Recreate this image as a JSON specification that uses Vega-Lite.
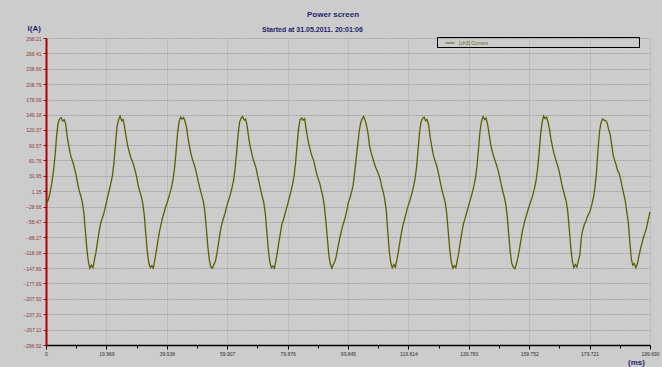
{
"$schema": "https://vega.github.io/schema/vega-lite/v6.json",
"width": 604, "height": 307,
"autosize": {"type": "none"},
"padding": {"left": 46, "top": 38, "right": 12, "bottom": 22},
"background": "#cccccc",
"config": {"font": "Liberation Sans", "view": {"stroke": null}},
"title": {"text": "Power screen", "anchor": "middle", "frame": "group", "dx": -15, "offset": 5, "fontSize": 8, "fontWeight": "bold", "color": "#1f1f6b"},
"data": {"values": [
{"ms":0,"current":-24},{"ms":0.5,"current":-19},{"ms":1,"current":-10},{"ms":1.5,"current":3},{"ms":2,"current":20},{"ms":2.5,"current":42},{"ms":3,"current":70},{"ms":3.5,"current":108},{"ms":4,"current":133},{"ms":4.5,"current":141},{"ms":5,"current":144},{"ms":5.5,"current":137},{"ms":6,"current":140},{"ms":6.5,"current":132},{"ms":7,"current":108},{"ms":7.5,"current":90},{"ms":8,"current":74},{"ms":8.5,"current":64},{"ms":9,"current":55},{"ms":9.5,"current":44},{"ms":10,"current":31},{"ms":10.5,"current":15},{"ms":11,"current":2},{"ms":11.5,"current":-8},{"ms":12,"current":-20},{"ms":12.5,"current":-40},{"ms":13,"current":-74},{"ms":13.5,"current":-110},{"ms":14,"current":-135},{"ms":14.5,"current":-148},{"ms":15,"current":-142},{"ms":15.5,"current":-147},{"ms":16,"current":-133},{"ms":16.5,"current":-118},{"ms":17,"current":-98},{"ms":17.5,"current":-79},{"ms":18,"current":-63},{"ms":18.5,"current":-53},{"ms":19,"current":-44},{"ms":19.5,"current":-33},
{"ms":20,"current":-20},{"ms":20.5,"current":-7},{"ms":21,"current":5},{"ms":21.5,"current":18},{"ms":22,"current":33},{"ms":22.5,"current":58},{"ms":23,"current":95},{"ms":23.5,"current":127},{"ms":24,"current":140},{"ms":24.5,"current":147},{"ms":25,"current":138},{"ms":25.5,"current":140},{"ms":26,"current":125},{"ms":26.5,"current":106},{"ms":27,"current":89},{"ms":27.5,"current":78},{"ms":28,"current":67},{"ms":28.5,"current":60},{"ms":29,"current":51},{"ms":29.5,"current":40},{"ms":30,"current":28},{"ms":30.5,"current":12},{"ms":31,"current":1},{"ms":31.5,"current":-9},{"ms":32,"current":-23},{"ms":32.5,"current":-46},{"ms":33,"current":-82},{"ms":33.5,"current":-116},{"ms":34,"current":-138},{"ms":34.5,"current":-147},{"ms":35,"current":-143},{"ms":35.5,"current":-148},{"ms":36,"current":-131},{"ms":36.5,"current":-114},{"ms":37,"current":-95},{"ms":37.5,"current":-77},{"ms":38,"current":-64},{"ms":38.5,"current":-51},{"ms":39,"current":-41},{"ms":39.5,"current":-30},
{"ms":40,"current":-22},{"ms":40.5,"current":-12},{"ms":41,"current":-2},{"ms":41.5,"current":9},{"ms":42,"current":24},{"ms":42.5,"current":46},{"ms":43,"current":78},{"ms":43.5,"current":114},{"ms":44,"current":136},{"ms":44.5,"current":145},{"ms":45,"current":141},{"ms":45.5,"current":144},{"ms":46,"current":136},{"ms":46.5,"current":124},{"ms":47,"current":102},{"ms":47.5,"current":86},{"ms":48,"current":72},{"ms":48.5,"current":61},{"ms":49,"current":53},{"ms":49.5,"current":42},{"ms":50,"current":29},{"ms":50.5,"current":16},{"ms":51,"current":4},{"ms":51.5,"current":-7},{"ms":52,"current":-18},{"ms":52.5,"current":-37},{"ms":53,"current":-70},{"ms":53.5,"current":-106},{"ms":54,"current":-132},{"ms":54.5,"current":-146},{"ms":55,"current":-148},{"ms":55.5,"current":-141},{"ms":56,"current":-135},{"ms":56.5,"current":-120},{"ms":57,"current":-101},{"ms":57.5,"current":-81},{"ms":58,"current":-65},{"ms":58.5,"current":-55},{"ms":59,"current":-45},{"ms":59.5,"current":-34},
{"ms":60,"current":-23},{"ms":60.5,"current":-14},{"ms":61,"current":-4},{"ms":61.5,"current":8},{"ms":62,"current":22},{"ms":62.5,"current":44},{"ms":63,"current":75},{"ms":63.5,"current":111},{"ms":64,"current":135},{"ms":64.5,"current":143},{"ms":65,"current":146},{"ms":65.5,"current":139},{"ms":66,"current":141},{"ms":66.5,"current":128},{"ms":67,"current":105},{"ms":67.5,"current":88},{"ms":68,"current":75},{"ms":68.5,"current":63},{"ms":69,"current":54},{"ms":69.5,"current":45},{"ms":70,"current":30},{"ms":70.5,"current":17},{"ms":71,"current":3},{"ms":71.5,"current":-9},{"ms":72,"current":-21},{"ms":72.5,"current":-42},{"ms":73,"current":-77},{"ms":73.5,"current":-112},{"ms":74,"current":-136},{"ms":74.5,"current":-147},{"ms":75,"current":-144},{"ms":75.5,"current":-148},{"ms":76,"current":-134},{"ms":76.5,"current":-117},{"ms":77,"current":-97},{"ms":77.5,"current":-80},{"ms":78,"current":-62},{"ms":78.5,"current":-54},{"ms":79,"current":-43},{"ms":79.5,"current":-32},
{"ms":80,"current":-22},{"ms":80.5,"current":-10},{"ms":81,"current":1},{"ms":81.5,"current":14},{"ms":82,"current":30},{"ms":82.5,"current":55},{"ms":83,"current":90},{"ms":83.5,"current":122},{"ms":84,"current":140},{"ms":84.5,"current":143},{"ms":85,"current":139},{"ms":85.5,"current":142},{"ms":86,"current":122},{"ms":86.5,"current":104},{"ms":87,"current":90},{"ms":87.5,"current":78},{"ms":88,"current":68},{"ms":88.5,"current":61},{"ms":89,"current":47},{"ms":89.5,"current":35},{"ms":90,"current":25},{"ms":90.5,"current":17},{"ms":91,"current":4},{"ms":91.5,"current":-8},{"ms":92,"current":-27},{"ms":92.5,"current":-55},{"ms":93,"current":-88},{"ms":93.5,"current":-122},{"ms":94,"current":-140},{"ms":94.5,"current":-148},{"ms":95,"current":-141},{"ms":95.5,"current":-135},{"ms":96,"current":-124},{"ms":96.5,"current":-108},{"ms":97,"current":-93},{"ms":97.5,"current":-80},{"ms":98,"current":-68},{"ms":98.5,"current":-58},{"ms":99,"current":-48},{"ms":99.5,"current":-35},
{"ms":100,"current":-20},{"ms":100.5,"current":-12},{"ms":101,"current":-1},{"ms":101.5,"current":11},{"ms":102,"current":35},{"ms":102.5,"current":62},{"ms":103,"current":88},{"ms":103.5,"current":115},{"ms":104,"current":133},{"ms":104.5,"current":141},{"ms":105,"current":146},{"ms":105.5,"current":139},{"ms":106,"current":128},{"ms":106.5,"current":112},{"ms":107,"current":88},{"ms":107.5,"current":76},{"ms":108,"current":66},{"ms":108.5,"current":56},{"ms":109,"current":47},{"ms":109.5,"current":41},{"ms":110,"current":33},{"ms":110.5,"current":24},{"ms":111,"current":10},{"ms":111.5,"current":0},{"ms":112,"current":-15},{"ms":112.5,"current":-36},{"ms":113,"current":-78},{"ms":113.5,"current":-116},{"ms":114,"current":-138},{"ms":114.5,"current":-147},{"ms":115,"current":-141},{"ms":115.5,"current":-146},{"ms":116,"current":-132},{"ms":116.5,"current":-116},{"ms":117,"current":-97},{"ms":117.5,"current":-80},{"ms":118,"current":-65},{"ms":118.5,"current":-54},{"ms":119,"current":-43},{"ms":119.5,"current":-31},
{"ms":120,"current":-22},{"ms":120.5,"current":-13},{"ms":121,"current":-2},{"ms":121.5,"current":10},{"ms":122,"current":25},{"ms":122.5,"current":47},{"ms":123,"current":80},{"ms":123.5,"current":115},{"ms":124,"current":136},{"ms":124.5,"current":142},{"ms":125,"current":145},{"ms":125.5,"current":138},{"ms":126,"current":140},{"ms":126.5,"current":130},{"ms":127,"current":106},{"ms":127.5,"current":89},{"ms":128,"current":73},{"ms":128.5,"current":62},{"ms":129,"current":54},{"ms":129.5,"current":43},{"ms":130,"current":29},{"ms":130.5,"current":15},{"ms":131,"current":1},{"ms":131.5,"current":-9},{"ms":132,"current":-21},{"ms":132.5,"current":-43},{"ms":133,"current":-78},{"ms":133.5,"current":-113},{"ms":134,"current":-136},{"ms":134.5,"current":-148},{"ms":135,"current":-143},{"ms":135.5,"current":-147},{"ms":136,"current":-132},{"ms":136.5,"current":-116},{"ms":137,"current":-96},{"ms":137.5,"current":-78},{"ms":138,"current":-62},{"ms":138.5,"current":-53},{"ms":139,"current":-42},{"ms":139.5,"current":-31},
{"ms":140,"current":-21},{"ms":140.5,"current":-11},{"ms":141,"current":0},{"ms":141.5,"current":12},{"ms":142,"current":27},{"ms":142.5,"current":50},{"ms":143,"current":84},{"ms":143.5,"current":118},{"ms":144,"current":137},{"ms":144.5,"current":146},{"ms":145,"current":140},{"ms":145.5,"current":143},{"ms":146,"current":131},{"ms":146.5,"current":112},{"ms":147,"current":93},{"ms":147.5,"current":79},{"ms":148,"current":69},{"ms":148.5,"current":60},{"ms":149,"current":51},{"ms":149.5,"current":41},{"ms":150,"current":28},{"ms":150.5,"current":14},{"ms":151,"current":2},{"ms":151.5,"current":-10},{"ms":152,"current":-24},{"ms":152.5,"current":-48},{"ms":153,"current":-84},{"ms":153.5,"current":-118},{"ms":154,"current":-139},{"ms":154.5,"current":-146},{"ms":155,"current":-149},{"ms":155.5,"current":-140},{"ms":156,"current":-128},{"ms":156.5,"current":-112},{"ms":157,"current":-94},{"ms":157.5,"current":-76},{"ms":158,"current":-63},{"ms":158.5,"current":-52},{"ms":159,"current":-42},{"ms":159.5,"current":-32},
{"ms":160,"current":-23},{"ms":160.5,"current":-15},{"ms":161,"current":-5},{"ms":161.5,"current":7},{"ms":162,"current":21},{"ms":162.5,"current":43},{"ms":163,"current":73},{"ms":163.5,"current":110},{"ms":164,"current":134},{"ms":164.5,"current":147},{"ms":165,"current":142},{"ms":165.5,"current":145},{"ms":166,"current":135},{"ms":166.5,"current":120},{"ms":167,"current":100},{"ms":167.5,"current":86},{"ms":168,"current":73},{"ms":168.5,"current":63},{"ms":169,"current":53},{"ms":169.5,"current":44},{"ms":170,"current":30},{"ms":170.5,"current":16},{"ms":171,"current":3},{"ms":171.5,"current":-8},{"ms":172,"current":-19},{"ms":172.5,"current":-38},{"ms":173,"current":-72},{"ms":173.5,"current":-108},{"ms":174,"current":-134},{"ms":174.5,"current":-147},{"ms":175,"current":-141},{"ms":175.5,"current":-146},{"ms":176,"current":-134},{"ms":176.5,"current":-122},{"ms":177,"current":-88},{"ms":177.5,"current":-73},{"ms":178,"current":-63},{"ms":178.5,"current":-57},{"ms":179,"current":-48},{"ms":179.5,"current":-42},
{"ms":180,"current":-35},{"ms":180.5,"current":-24},{"ms":181,"current":-11},{"ms":181.5,"current":9},{"ms":182,"current":38},{"ms":182.5,"current":82},{"ms":183,"current":117},{"ms":183.5,"current":134},{"ms":184,"current":141},{"ms":184.5,"current":139},{"ms":185,"current":138},{"ms":185.5,"current":134},{"ms":186,"current":121},{"ms":186.5,"current":112},{"ms":187,"current":92},{"ms":187.5,"current":71},{"ms":188,"current":61},{"ms":188.5,"current":52},{"ms":189,"current":41},{"ms":189.5,"current":36},{"ms":190,"current":24},{"ms":190.5,"current":9},{"ms":191,"current":-4},{"ms":191.5,"current":-17},{"ms":192,"current":-39},{"ms":192.5,"current":-58},{"ms":193,"current":-95},{"ms":193.5,"current":-130},{"ms":194,"current":-142},{"ms":194.5,"current":-139},{"ms":195,"current":-147},{"ms":195.5,"current":-140},{"ms":196,"current":-125},{"ms":196.5,"current":-112},{"ms":197,"current":-100},{"ms":197.5,"current":-89},{"ms":198,"current":-80},{"ms":198.5,"current":-71},{"ms":199,"current":-57},{"ms":199.5,"current":-44},{"ms":199.69,"current":-39}
]},
"layer": [
{"mark": {"type": "line", "strokeWidth": 1.3},
 "encoding": {
  "x": {"field": "ms", "type": "quantitative", "scale": {"domain": [0, 199.69], "nice": false, "zero": false},
   "axis": {"orient": "bottom", "values": [0, 9.9845, 19.969, 29.9535, 39.938, 49.9225, 59.907, 69.8915, 79.876, 89.8605, 99.845, 109.8295, 119.814, 129.7985, 139.783, 149.7675, 159.752, 169.7365, 179.721, 189.7055, 199.69],
    "labelExpr": "round(datum.value/9.9845) % 2 == 1 ? '' : (datum.value == 0 ? '0' : format(datum.value, '.3f'))",
    "labelFontSize": 5, "labelColor": "#303030", "labelPadding": 2, "labelFlush": false, "labelOverlap": false,
    "tickSize": {"condition": {"test": "round(datum.value/9.9845) % 2 == 1", "value": 3}, "value": 4},
    "tickColor": "#000000", "domainColor": "#000000", "domainWidth": 1.5,
    "gridColor": "#acacac", "gridDash": [1, 1],
    "gridOpacity": {"condition": {"test": "round(datum.value/9.9845) % 2 == 1", "value": 0}, "value": 1},
    "title": "(ms)", "titleX": 590, "titleY": 19, "titleAlign": "center", "titleBaseline": "alphabetic",
    "titleFontSize": 8, "titleFontWeight": "bold", "titleColor": "#1f1f6b"}},
  "y": {"field": "current", "type": "quantitative", "scale": {"domain": [-296.92, 298.21], "nice": false, "zero": false},
   "axis": {"values": [298.21, 268.41, 238.60, 208.79, 178.99, 149.18, 120.37, 90.57, 60.76, 30.95, 1.15, -28.66, -58.47, -88.27, -118.08, -147.89, -177.69, -207.50, -237.31, -267.11, -296.92],
    "format": ".2f", "labelFontSize": 5, "labelColor": "#8a3a3a", "labelPadding": 2, "labelFlush": false, "labelOverlap": false,
    "tickSize": 3, "tickColor": "#b00000", "domainColor": "#b00000", "domainWidth": 2,
    "gridColor": "#a4a4a4", "gridDash": [2, 1], "gridWidth": 1,
    "title": "I(A)", "titleAngle": 0, "titleX": -19, "titleY": -8, "titleAlign": "left", "titleBaseline": "alphabetic",
    "titleFontSize": 8, "titleFontWeight": "bold", "titleColor": "#1f1f6b"}},
  "color": {"datum": "[ch3] Current", "type": "nominal", "scale": {"range": ["#5e5e00"]},
   "legend": {"orient": "none", "legendX": 391, "legendY": -1, "title": null, "symbolType": "stroke", "symbolSize": 81, "symbolStrokeWidth": 1, "symbolOffset": 7,
    "labelFontSize": 5, "labelColor": "#6a6a1a", "labelLimit": 400, "labelExpr": "pad(datum.label, 121, '\u00a0') + '\u200b'", "strokeColor": "#000000", "padding": 1}}
 }},
{"transform": [{"filter": "datum.ms == 0"}],
 "mark": {"type": "tick", "opacity": 0},
 "encoding": {
  "x": {"field": "ms", "type": "quantitative",
   "axis": {"orient": "top", "domain": false, "ticks": false, "labels": false, "grid": false,
    "title": "Started at  31.05.2011.  20:01:06", "titleX": 266, "titleY": -7, "titleAlign": "center", "titleBaseline": "alphabetic",
    "titleFontSize": 7, "titleFontWeight": "bold", "titleColor": "#1f1f6b"}}
 }}
],
"resolve": {"axis": {"x": "independent"}}
}
